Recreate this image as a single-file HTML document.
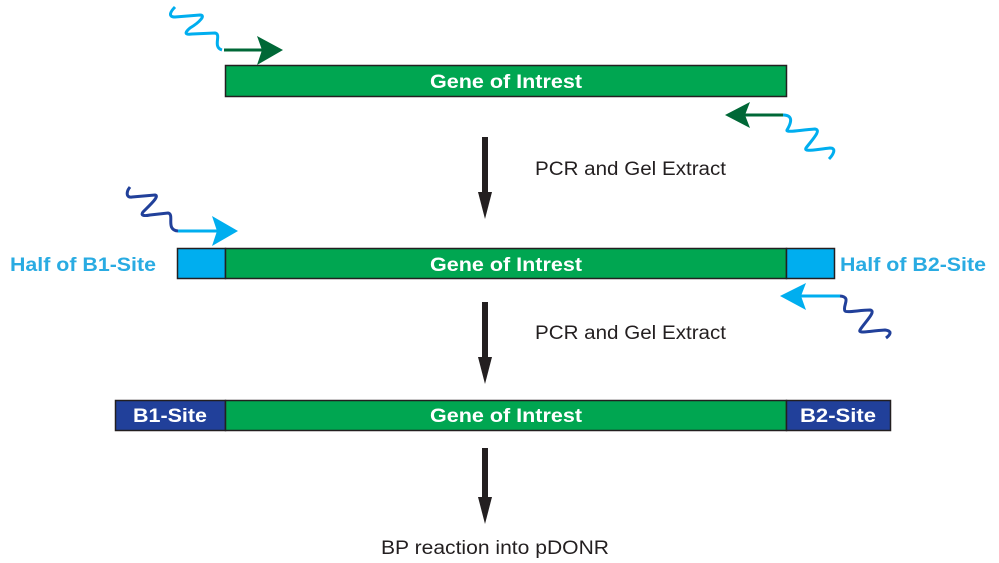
<!DOCTYPE html>
<html><head><meta charset="utf-8"><style>html,body{margin:0;padding:0;background:#fff}svg{display:block}</style></head>
<body>
<svg width="999" height="563" viewBox="0 0 999 563" xmlns="http://www.w3.org/2000/svg" font-family="Liberation Sans, sans-serif">
<!-- bars -->
<rect x="225.5" y="65.5" width="561" height="31" fill="#00a651" stroke="#231f20" stroke-width="1.5"/>
<text x="506" y="88" font-size="19" font-weight="bold" fill="#fff" text-anchor="middle" textLength="152" lengthAdjust="spacingAndGlyphs">Gene of Intrest</text>

<rect x="177.5" y="248.5" width="48" height="30" fill="#00aeef" stroke="#231f20" stroke-width="1.5"/>
<rect x="225.5" y="248.5" width="561" height="30" fill="#00a651" stroke="#231f20" stroke-width="1.5"/>
<rect x="786.5" y="248.5" width="48" height="30" fill="#00aeef" stroke="#231f20" stroke-width="1.5"/>
<text x="506" y="271" font-size="19" font-weight="bold" fill="#fff" text-anchor="middle" textLength="152" lengthAdjust="spacingAndGlyphs">Gene of Intrest</text>
<text x="10" y="271" font-size="19" font-weight="bold" fill="#29abe2" textLength="146" lengthAdjust="spacingAndGlyphs">Half of B1-Site</text>
<text x="840" y="271" font-size="19" font-weight="bold" fill="#29abe2" textLength="146" lengthAdjust="spacingAndGlyphs">Half of B2-Site</text>

<rect x="115.5" y="400.5" width="110" height="30" fill="#21409a" stroke="#231f20" stroke-width="1.5"/>
<rect x="225.5" y="400.5" width="561" height="30" fill="#00a651" stroke="#231f20" stroke-width="1.5"/>
<rect x="786.5" y="400.5" width="104" height="30" fill="#21409a" stroke="#231f20" stroke-width="1.5"/>
<text x="506" y="422" font-size="19" font-weight="bold" fill="#fff" text-anchor="middle" textLength="152" lengthAdjust="spacingAndGlyphs">Gene of Intrest</text>
<text x="170" y="422" font-size="19" font-weight="bold" fill="#fff" text-anchor="middle" textLength="74" lengthAdjust="spacingAndGlyphs">B1-Site</text>
<text x="838" y="422" font-size="19" font-weight="bold" fill="#fff" text-anchor="middle" textLength="76" lengthAdjust="spacingAndGlyphs">B2-Site</text>

<!-- down arrows -->
<g fill="#231f20">
<rect x="482" y="137" width="6" height="57"/><polygon points="478,192 492,192 485,219"/>
<rect x="482" y="302" width="6" height="57"/><polygon points="478,357 492,357 485,384"/>
<rect x="482" y="448" width="6" height="51"/><polygon points="478,497 492,497 485,524"/>
</g>
<g font-size="19" fill="#231f20">
<text x="535" y="175" textLength="191" lengthAdjust="spacingAndGlyphs">PCR and Gel Extract</text>
<text x="535" y="339" textLength="191" lengthAdjust="spacingAndGlyphs">PCR and Gel Extract</text>
<text x="381" y="554" textLength="228" lengthAdjust="spacingAndGlyphs">BP reaction into pDONR</text>
</g>

<!-- primer 1 -->
<path d="M175,7 C170,12 168,17 175,17 L200,15 C206,15 200,22 190,28 C184,33 185,35 192,34 L215,33 C222,34 212,47 222,50" fill="none" stroke="#00aeef" stroke-width="3"/>
<line x1="224" y1="50" x2="262" y2="50" stroke="#006837" stroke-width="3"/>
<polygon points="257,36 283,50 257,65 262,50" fill="#006837"/>
<!-- primer 2 -->
<line x1="745" y1="115" x2="783" y2="115" stroke="#006837" stroke-width="3"/>
<polygon points="750,102 725,115 750,128 745,115" fill="#006837"/>
<path d="M783,115 C795,115 790,125 787,130 C786,133 800,130 815,129 C822,130 812,140 806,148 C804,152 812,150 830,148 C837,148 833,155 829,159" fill="none" stroke="#00aeef" stroke-width="3"/>
<!-- primer 3 -->
<path d="M130,187 C126,192 126,198 132,197 L155,195 C160,196 150,205 143,212 C140,216 145,216 150,215 L168,213 C175,214 165,230 178,231" fill="none" stroke="#21409a" stroke-width="3"/>
<line x1="178" y1="231" x2="218" y2="231" stroke="#00aeef" stroke-width="3"/>
<polygon points="212,216 238,231 212,246 217,231" fill="#00aeef"/>
<!-- primer 4 -->
<line x1="800" y1="296" x2="840" y2="296" stroke="#00aeef" stroke-width="3"/>
<polygon points="806,283 780,296 806,310 801,296" fill="#00aeef"/>
<path d="M840,296 C852,297 842,306 845,311 C847,313 860,310 870,310 C877,311 865,322 860,330 C858,334 868,331 885,330 C893,331 890,335 886,338" fill="none" stroke="#21409a" stroke-width="3"/>
</svg>
</body></html>
